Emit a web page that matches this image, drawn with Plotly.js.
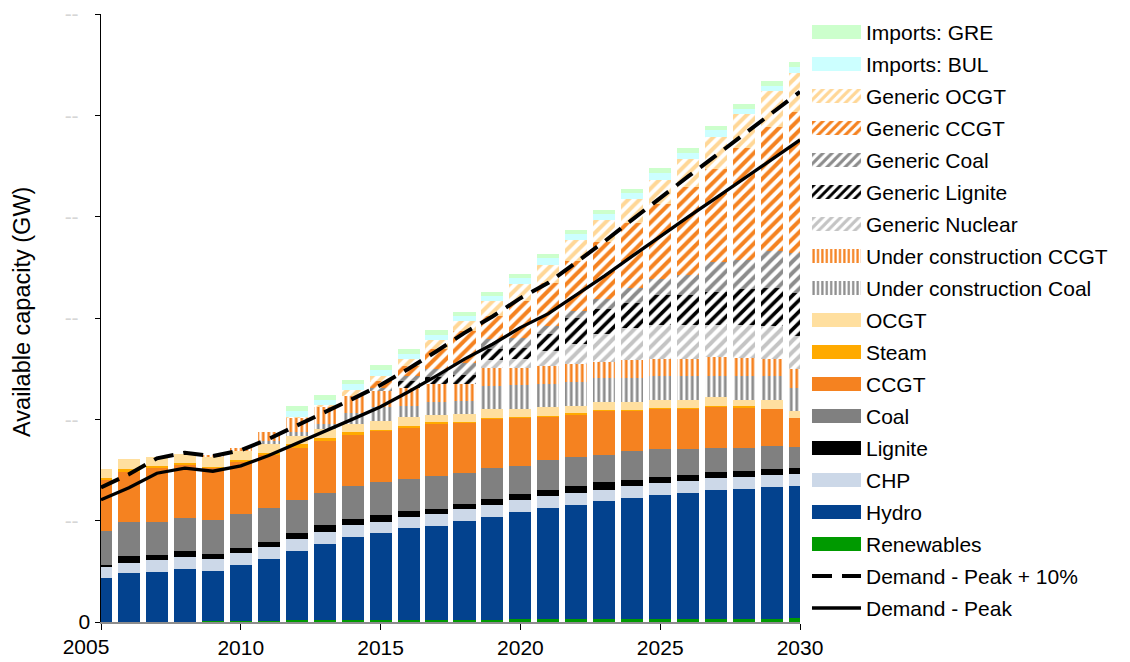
<!DOCTYPE html>
<html>
<head>
<meta charset="utf-8">
<script src="https://cdn.plot.ly/plotly-3.0.1.min.js"></script>
<style>
html,body{margin:0;padding:0;background:#ffffff;}
#chart{width:1130px;height:662px;}
</style>
</head>
<body>
<div id="chart"></div>
<script>
// ---- data (GW) ----
const years = [2005,2006,2007,2008,2009,2010,2011,2012,2013,2014,2015,2016,2017,2018,2019,2020,2021,2022,2023,2024,2025,2026,2027,2028,2029,2030];
const xTickVals = [2005,2010,2015,2020,2025,2030];
const xTickText = ['2005','2010','2015','2020','2025','2030'];
const yTickVals = [0,1,2,3,4,5,6];

const renewables = [0,0,0,0,0.01,0.01,0.01,0.015,0.015,0.015,0.015,0.015,0.015,0.015,0.015,0.025,0.025,0.025,0.025,0.025,0.025,0.025,0.025,0.03,0.03,0.04];
const hydro = [0.433,0.482,0.492,0.521,0.492,0.551,0.610,0.684,0.752,0.821,0.861,0.910,0.932,0.982,1.018,1.057,1.097,1.126,1.166,1.195,1.226,1.247,1.276,1.283,1.300,1.301];
const chp = [0.108,0.105,0.118,0.118,0.118,0.118,0.118,0.118,0.118,0.118,0.108,0.111,0.115,0.115,0.118,0.118,0.118,0.118,0.108,0.118,0.119,0.115,0.120,0.115,0.116,0.115];
const lignite = [0.020,0.062,0.049,0.059,0.049,0.049,0.049,0.059,0.069,0.059,0.069,0.056,0.049,0.049,0.059,0.059,0.059,0.069,0.079,0.059,0.058,0.059,0.058,0.058,0.061,0.062];
const coal = [0.334,0.334,0.325,0.328,0.337,0.334,0.334,0.325,0.315,0.325,0.325,0.315,0.325,0.308,0.308,0.285,0.295,0.295,0.275,0.295,0.278,0.260,0.234,0.227,0.227,0.206];
const ccgt = [0.507,0.495,0.531,0.525,0.511,0.521,0.531,0.521,0.521,0.511,0.511,0.511,0.521,0.496,0.486,0.472,0.433,0.413,0.433,0.393,0.397,0.397,0.408,0.394,0.365,0.286];
const steam = [0.020,0.030,0.020,0.023,0.017,0.017,0.017,0.030,0.027,0.030,0.010,0.013,0.013,0.010,0.005,0.010,0.010,0.020,0.005,0.010,0.011,0.011,0.011,0.022,0.004,0];
const ocgt = [0.084,0.098,0.089,0.086,0.091,0.085,0.085,0.082,0.091,0.079,0.089,0.095,0.076,0.079,0.091,0.079,0.089,0.069,0.084,0.079,0.080,0.073,0.084,0.065,0.084,0.076];
const ucCoal = [0,0,0,0,0,0,0.030,0.039,0.046,0.108,0.131,0.108,0.128,0.124,0.226,0.236,0.226,0.236,0.236,0.236,0.231,0.238,0.216,0.238,0.238,0.227];
const ucCcgt = [0,0,0,0,0.027,0.030,0.095,0.138,0.170,0.167,0.157,0.180,0.174,0.171,0.184,0.170,0.170,0.177,0.157,0.177,0.173,0.173,0.188,0.177,0.173,0.185];
const genNuclear = [0,0,0,0,0,0,0,0,0,0,0,0,0,0,0.072,0.083,0.154,0.194,0.272,0.318,0.336,0.336,0.315,0.326,0.319,0.329];
const genLignite = [0,0,0,0,0,0,0,0,0,0,0,0.066,0.072,0.092,0.115,0.114,0.164,0.262,0.246,0.246,0.289,0.289,0.326,0.351,0.379,0.415];
const genCoal = [0,0,0,0,0,0,0,0,0,0,0.036,0.049,0.079,0.114,0.098,0.098,0.082,0.066,0.098,0.148,0.162,0.206,0.289,0.288,0.362,0.398];
const genCcgt = [0,0,0,0,0,0,0,0,0,0,0.069,0.098,0.197,0.312,0.229,0.361,0.426,0.492,0.564,0.639,0.741,0.860,0.921,1.103,1.222,1.391];
const genOcgt = [0,0,0,0,0,0,0,0.017,0.020,0.059,0.049,0.069,0.089,0.105,0.148,0.170,0.174,0.207,0.216,0.233,0.239,0.282,0.319,0.335,0.357,0.390];
const importsBul = [0,0,0,0,0,0,0,0.052,0.049,0.052,0.059,0.049,0.049,0.049,0.049,0.056,0.069,0.059,0.059,0.059,0.069,0.062,0.061,0.055,0.054,0.054];
const importsGre = [0,0,0,0,0,0,0,0.056,0.049,0.046,0.049,0.049,0.049,0.042,0.039,0.039,0.039,0.039,0.039,0.039,0.050,0.046,0.043,0.043,0.047,0.050];
const demandPeak = [1.207,1.325,1.468,1.518,1.488,1.541,1.643,1.761,1.879,2.002,2.125,2.272,2.429,2.594,2.741,2.905,3.043,3.226,3.413,3.610,3.806,3.997,4.186,4.376,4.566,4.757];
const demandPeak10 = [1.328,1.458,1.615,1.670,1.637,1.695,1.807,1.937,2.067,2.202,2.338,2.499,2.672,2.853,3.015,3.196,3.347,3.549,3.754,3.971,4.187,4.397,4.605,4.814,5.023,5.233];

// ---- styling ----
const FONT = 'Liberation Sans, Arial, Helvetica, sans-serif';
const BAR_W = 0.79;

function solidBar(name, y, color, rank) {
  return {type:'bar', name:name, x:years, y:y, width:BAR_W, legendgroup:name, legendrank:rank,
    marker:{color:color, line:{width:0}}, hoverinfo:'skip'};
}
function patternBar(name, y, color, shape, size, solidity, rank) {
  return {type:'bar', name:name, x:years, y:y, width:BAR_W, legendgroup:name, legendrank:rank,
    marker:{color:color, line:{width:0},
      pattern:{shape:shape, fgcolor:color, bgcolor:'#ffffff', size:size, solidity:solidity, fillmode:'replace'}},
    hoverinfo:'skip'};
}

const traces = [
  solidBar('Renewables', renewables, '#009A00', 17),
  solidBar('Hydro', hydro, '#03428E', 16),
  solidBar('CHP', chp, '#CCD8E8', 15),
  solidBar('Lignite', lignite, '#000000', 14),
  solidBar('Coal', coal, '#808080', 13),
  solidBar('CCGT', ccgt, '#F58220', 12),
  solidBar('Steam', steam, '#FFAA00', 11),
  solidBar('OCGT', ocgt, '#FFDF9F', 10),
  patternBar('Under construction Coal', ucCoal, '#8C8C8C', '|', 5.5, 0.5, 9),
  patternBar('Under construction CCGT', ucCcgt, '#F58220', '|', 5.5, 0.5, 8),
  patternBar('Generic Nuclear', genNuclear, '#C4C4C4', '/', 8, 0.48, 7),
  patternBar('Generic Lignite', genLignite, '#000000', '/', 8, 0.45, 6),
  patternBar('Generic Coal', genCoal, '#8C8C8C', '/', 8, 0.48, 5),
  patternBar('Generic CCGT', genCcgt, '#F58220', '/', 8, 0.5, 4),
  patternBar('Generic OCGT', genOcgt, '#FFD797', '/', 8, 0.5, 3),
  solidBar('Imports: BUL', importsBul, '#CCFFFF', 2),
  solidBar('Imports: GRE', importsGre, '#CCFFCC', 1),
  {type:'scatter', mode:'lines', name:'Demand - Peak + 10%', x:years, y:demandPeak10, xaxis:'x2', yaxis:'y',
    legendgroup:'dp10', legendrank:18, line:{color:'#000000', width:4, dash:'20px,10px'}, hoverinfo:'skip'},
  {type:'scatter', mode:'lines', name:'Demand - Peak', x:years, y:demandPeak, xaxis:'x2', yaxis:'y',
    legendgroup:'dp', legendrank:19, line:{color:'#000000', width:3.3}, hoverinfo:'skip'}
];

const dashTick = '<span style="color:#d6d6d6">--</span>&nbsp;&nbsp;';
const layout = {
  width:1130, height:662,
  margin:{l:101, r:330, t:12, b:40, pad:0},
  paper_bgcolor:'#ffffff', plot_bgcolor:'#ffffff',
  font:{family:FONT, size:21, color:'#000000'},
  barmode:'stack',
  showlegend:true,
  legend:{x:1.0100, xanchor:'left', y:1.0035, yanchor:'top', traceorder:'grouped',
    tracegroupgap:1.7, itemwidth:49, maxheight:660, font:{family:FONT, size:21, color:'#000000'},
    bgcolor:'rgba(0,0,0,0)', borderwidth:0},
  xaxis:{range:[2005,2030], tickvals:xTickVals, ticktext:[''].concat(xTickText.slice(1)),
    showgrid:false, zeroline:false, showline:true, linecolor:'#8c8c8c', linewidth:1.5,
    ticks:'outside', ticklen:6, tickcolor:'#000000', tickwidth:1,
    tickfont:{family:FONT, size:21, color:'#000000'}, fixedrange:true},
  xaxis2:{overlaying:'x', anchor:'y', side:'bottom', range:[2005,2030],
    tickvals:[xTickVals[0]], ticktext:[xTickText[0]], ticklabelshift:-15,
    showgrid:false, zeroline:false, showline:false, ticks:'outside', ticklen:6,
    tickcolor:'rgba(0,0,0,0)', tickwidth:1,
    tickfont:{family:FONT, size:21, color:'#000000'}, fixedrange:true},
  yaxis:{range:[0,6], tickvals:yTickVals, ticktext:['0',dashTick,dashTick,dashTick,dashTick,dashTick,dashTick],
    showgrid:false, zeroline:false, showline:true, linecolor:'#000000', linewidth:1.5,
    ticks:'outside', ticklen:5, tickcolor:'#000000', tickwidth:1,
    tickfont:{family:FONT, size:21, color:'#000000'}, fixedrange:true},
  annotations:[{text:'Available capacity (GW)', xref:'paper', yref:'paper', x:-0.113, y:0.51,
    xanchor:'center', yanchor:'middle', textangle:-90, showarrow:false,
    font:{family:FONT, size:23.5, color:'#000000'}}]
};

function widenLegend() {
  const gd = document.getElementById('chart');
  gd.querySelectorAll('.legend .traces').forEach(function(t){
    t.querySelectorAll('path.legendbar, path.legendundefined').forEach(function(p){
      p.setAttribute('d','M5,-7H54V7H5Z');
      p.removeAttribute('transform');
    });
    t.querySelectorAll('path.js-line').forEach(function(p){
      p.setAttribute('d','M5,0h49');
    });
  });
}

Plotly.newPlot('chart', traces, layout, {staticPlot:true, displayModeBar:false}).then(widenLegend);
</script>
</body>
</html>
